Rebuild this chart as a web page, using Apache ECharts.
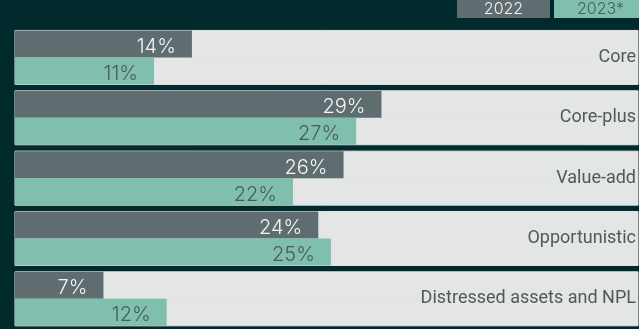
<!DOCTYPE html>
<html>
<head>
<meta charset="utf-8">
<script src="https://cdn.jsdelivr.net/npm/echarts@6/dist/echarts.min.js"></script>
<style>
  html, body { margin: 0; padding: 0; background: #012a2c; }
  #chart { width: 639px; height: 329px; }
</style>
</head>
<body>
<div id="chart"></div>
<script>
// Investment strategy shares, 2022 vs 2023*
const categories = ['Core', 'Core-plus', 'Value-add', 'Opportunistic', 'Distressed assets and NPL'];
const values2022 = [14, 29, 26, 24, 7];
const values2023 = [11, 27, 22, 25, 12];
const seriesNames = ['2022', '2023*'];

const FONT = 'Inter, Roboto, sans-serif';
const GRAY = '#5f6c70';
const TEAL = '#80bead';
const BAND = '#e4e6e5';

const chart = echarts.init(document.getElementById('chart'), null, { renderer: 'canvas' });

function barLabel(color) {
  return {
    show: true,
    position: 'insideRight',
    distance: 16,
    offset: [0, 3],
    formatter: p => p.value + '%',
    color: color,
    fontFamily: FONT,
    fontWeight: 300,
    fontSize: 20
  };
}

const legendBox = {
  width: 93,
  height: 18,
  align: 'center',
  verticalAlign: 'middle',
  fontSize: 16,
  fontFamily: FONT,
  fontWeight: 300,
  lineHeight: 18
};

chart.setOption({
  backgroundColor: '#012a2c',
  animation: false,
  legend: {
    orient: 'horizontal',
    left: 452,
    top: 0,
    width: 400,
    padding: 0,
    itemGap: -1,
    itemWidth: 0,
    itemHeight: 0,
    icon: 'none',
    selectedMode: false,
    formatter: name => (name === seriesNames[0] ? '{g|' : '{t|') + name + '}',
    textStyle: {
      rich: {
        g: Object.assign({}, legendBox, { color: '#f2f2f2', backgroundColor: GRAY }),
        t: Object.assign({}, legendBox, { color: '#4b5b5c', backgroundColor: TEAL })
      }
    },
    data: seriesNames
  },
  grid: { left: 15, right: 0, top: 27.25, bottom: -5.75, containLabel: false },
  xAxis: { type: 'value', min: 0, max: 49.3, show: false },
  yAxis: {
    type: 'category',
    data: categories,
    inverse: true,
    position: 'right',
    axisLine: { show: false },
    axisTick: { show: false },
    splitLine: { show: false },
    axisLabel: {
      inside: true,
      margin: 2,
      color: '#4d5a5c',
      fontFamily: 'Roboto, sans-serif',
      fontSize: 18
    },
    z: 10
  },
  series: [
    {
      name: seriesNames[0],
      type: 'bar',
      data: values2022,
      barGap: '0%',
      barWidth: 27,
      itemStyle: { color: GRAY },
      showBackground: true,
      backgroundStyle: { color: BAND, borderColor: BAND, borderWidth: 1 },
      label: barLabel('#f4f4f4')
    },
    {
      name: seriesNames[1],
      type: 'bar',
      data: values2023,
      barGap: '0%',
      barWidth: 27,
      itemStyle: { color: TEAL },
      showBackground: true,
      backgroundStyle: { color: BAND, borderColor: BAND, borderWidth: 1 },
      label: barLabel('#4b5b5c')
    }
  ]
});
</script>
</body>
</html>
